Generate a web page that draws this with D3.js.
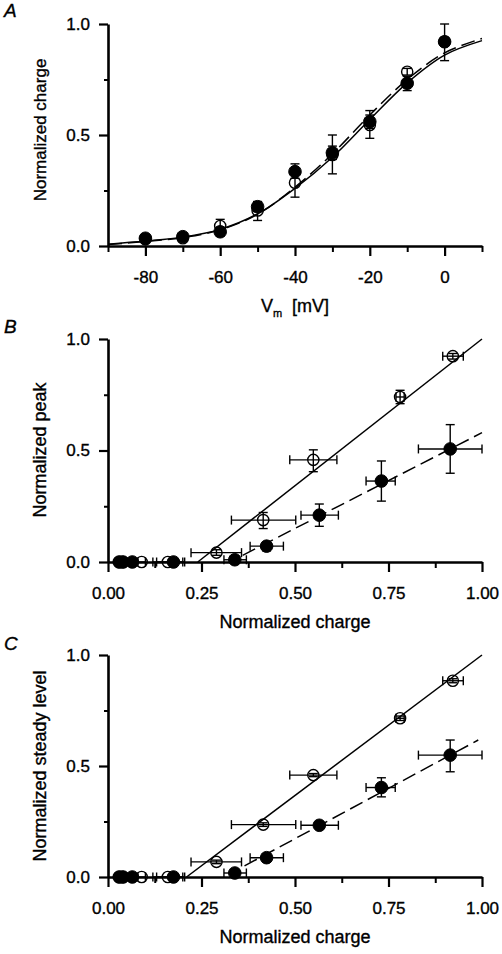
<!DOCTYPE html>
<html><head><meta charset="utf-8">
<script src="https://cdn.jsdelivr.net/npm/d3@7"></script>
<style>
body{margin:0;background:#fff}
svg text{font-family:"Liberation Sans",Arial,Helvetica,sans-serif;fill:#000;stroke:#000;stroke-width:0.35px}
</style>
</head><body>
<svg id="chart" width="502" height="954"></svg>
<script>
// ---------- Panel A data ----------
const aVolt     = [-80, -70, -60, -50, -40, -30, -20, -10, 0];
const aOpen     = [0.030, 0.035, 0.090, 0.160, 0.285, 0.410, 0.545, 0.785, 0.920];
const aOpenLo   = [0.020, 0.025, 0.060, 0.115, 0.220, 0.325, 0.485, 0.770, 0.900];
const aOpenHi   = [0.040, 0.045, 0.120, 0.200, 0.340, 0.500, 0.610, 0.800, 0.940];
const aFill     = [0.035, 0.042, 0.064, 0.177, 0.335, 0.420, 0.560, 0.733, 0.920];
const aFillLo   = [0.025, 0.032, 0.045, 0.155, 0.305, 0.390, 0.530, 0.700, 0.835];
const aFillHi   = [0.045, 0.052, 0.085, 0.200, 0.370, 0.450, 0.590, 0.765, 1.000];
const fitVolt   = [-90, -80, -70, -60, -50, -40, -30, -20, -10, 0, 10];
const fitSolid  = [0.008, 0.022, 0.040, 0.075, 0.145, 0.260, 0.400, 0.570, 0.735, 0.860, 0.925];
const fitDash   = [0.007, 0.020, 0.038, 0.073, 0.143, 0.265, 0.415, 0.590, 0.750, 0.870, 0.935];
const aXTicks   = [-90, -80, -70, -60, -50, -40, -30, -20, -10, 0, 10];
const aXLabels  = [-80, -60, -40, -20, 0];

// ---------- Normalized charge (x of panels B, C) ----------
const qOpenX    = [0.030, 0.040, 0.090, 0.160, 0.290, 0.415, 0.549, 0.781, 0.922];
const qOpenXLo  = [0.030, 0.040, 0.080, 0.120, 0.222, 0.330, 0.486, 0.770, 0.895];
const qOpenXHi  = [0.030, 0.040, 0.100, 0.200, 0.357, 0.502, 0.612, 0.792, 0.950];
const qFillX    = [0.030, 0.040, 0.065, 0.175, 0.339, 0.424, 0.565, 0.731, 0.915];
const qFillXLo  = [0.030, 0.040, 0.065, 0.130, 0.310, 0.380, 0.516, 0.690, 0.830];
const qFillXHi  = [0.030, 0.040, 0.065, 0.205, 0.370, 0.469, 0.616, 0.768, 1.000];

// ---------- Panel B: normalized peak ----------
const bOpen     = [0, 0, 0, 0, 0.042, 0.188, 0.458, 0.740, 0.923];
const bOpenLo   = [0, 0, 0, 0, 0.030, 0.150, 0.405, 0.710, 0.910];
const bOpenHi   = [0, 0, 0, 0, 0.055, 0.222, 0.503, 0.770, 0.935];
const bFill     = [0, 0, 0, 0, 0.010, 0.071, 0.210, 0.363, 0.507];
const bFillLo   = [0, 0, 0, 0, 0.005, 0.050, 0.160, 0.273, 0.398];
const bFillHi   = [0, 0, 0, 0, 0.015, 0.090, 0.260, 0.453, 0.616];
const bSolidX   = [0.24, 1.00], bSolidY = [0.00, 1.00];
const bDashX    = [0.36, 1.00], bDashY  = [0.03, 0.58];

// ---------- Panel C: normalized steady level ----------
const cOpen     = [0, 0, 0, 0, 0.068, 0.236, 0.459, 0.715, 0.884];
const cOpenLo   = [0, 0, 0, 0, 0.060, 0.228, 0.452, 0.705, 0.875];
const cOpenHi   = [0, 0, 0, 0, 0.076, 0.244, 0.466, 0.725, 0.893];
const cFill     = [0, 0, 0, 0, 0.018, 0.087, 0.233, 0.403, 0.549];
const cFillLo   = [0, 0, 0, 0, 0.012, 0.078, 0.220, 0.361, 0.474];
const cFillHi   = [0, 0, 0, 0, 0.024, 0.096, 0.246, 0.447, 0.617];
const cSolidX   = [0.21, 1.00], cSolidY = [0.00, 1.00];
const cDashX    = [0.365, 0.99], cDashY = [0.05, 0.617];

const qXTicks   = [0, 0.125, 0.25, 0.375, 0.5, 0.625, 0.75, 0.875, 1.0];
const qXLabels  = [0, 0.25, 0.5, 0.75, 1.0];
const yTicks    = [0, 0.25, 0.5, 0.75, 1.0];
const yLabels   = [0, 0.5, 1.0];

// ---------- drawing ----------
const svg = d3.select("#chart");
const X0 = 108, X1 = 482;
const FS = 17, TFS = 18;

function panel(opt) {
  const g = svg.append("g");
  const x = d3.scaleLinear().domain(opt.xDomain).range([X0, X1]);
  const y = d3.scaleLinear().domain([0, 1]).range([opt.y0, opt.y1]);

  // minor ticks
  g.append("g").attr("transform", `translate(0,${opt.y0})`)
    .call(d3.axisBottom(x).tickValues(opt.xTicks.filter(v => !opt.xLabels.includes(v))).tickSize(6).tickFormat(""))
    .call(a => a.select(".domain").remove())
    .call(a => a.selectAll("line").attr("stroke-width", 2));
  g.append("g").attr("transform", `translate(${X0},0)`)
    .call(d3.axisLeft(y).tickValues(yTicks.filter(v => !yLabels.includes(v))).tickSize(4).tickFormat(""))
    .call(a => a.select(".domain").remove())
    .call(a => a.selectAll("line").attr("stroke-width", 2));
  // major ticks + labels
  const xa = g.append("g").attr("transform", `translate(0,${opt.y0})`)
    .call(d3.axisBottom(x).tickValues(opt.xLabels).tickSize(10).tickSizeOuter(0).tickPadding(15).tickFormat(opt.xFmt));
  const ya = g.append("g").attr("transform", `translate(${X0},0)`)
    .call(d3.axisLeft(y).tickValues(yLabels).tickSize(9).tickSizeOuter(0).tickPadding(9).tickFormat(d3.format(".1f")));
  [xa, ya].forEach(a => {
    a.select(".domain").attr("stroke-width", 2.6);
    a.selectAll("line").attr("stroke-width", 2.2);
    a.selectAll("text").style("font-size", FS + "px").style("font-family", '"Liberation Sans",Arial,sans-serif');
  });

  // titles
  const xt = g.append("text").attr("x", (X0 + X1) / 2).attr("y", opt.y0 + 66)
    .attr("text-anchor", "middle").style("font-size", TFS + "px");
  if (opt.xTitleSub) {
    xt.append("tspan").text("V");
    xt.append("tspan").attr("dy", 5).style("font-size", "11px").text("m");
    xt.append("tspan").attr("dy", -5).attr("xml:space", "preserve").text("  [mV]");
  } else xt.text(opt.xTitle);
  g.append("text").attr("transform", `translate(46,${opt.yTitleC}) rotate(-90)`)
    .attr("text-anchor", "middle").style("font-size", opt.yTitleFS + "px").text(opt.yTitle);
  g.append("text").attr("x", 4).attr("y", opt.letterY).style("font-size", "19px")
    .style("font-style", "italic").text(opt.letter);

  return {g, x, y};
}

function errBars(g, x, y, xs, ys, xlo, xhi, ylo, yhi) {
  const cap = 4.5;
  xs.forEach((xv, i) => {
    const cx = x(xv), cy = y(ys[i]);
    if (ylo && ylo[i] !== yhi[i]) {
      const a = y(ylo[i]), b = y(yhi[i]);
      g.append("line").attr("x1", cx).attr("x2", cx).attr("y1", a).attr("y2", b);
      g.append("line").attr("x1", cx - cap).attr("x2", cx + cap).attr("y1", a).attr("y2", a);
      g.append("line").attr("x1", cx - cap).attr("x2", cx + cap).attr("y1", b).attr("y2", b);
    }
    if (xlo && xlo[i] !== xhi[i]) {
      const a = x(xlo[i]), b = x(xhi[i]);
      g.append("line").attr("x1", a).attr("x2", b).attr("y1", cy).attr("y2", cy);
      g.append("line").attr("x1", a).attr("x2", a).attr("y1", cy - cap).attr("y2", cy + cap);
      g.append("line").attr("x1", b).attr("x2", b).attr("y1", cy - cap).attr("y2", cy + cap);
    }
  });
  g.selectAll("line").attr("stroke", "#000").attr("stroke-width", 1.4);
}

function dots(g, x, y, xs, ys, filled) {
  g.selectAll(null).data(xs).join("circle")
    .attr("cx", d => x(d)).attr("cy", (d, i) => y(ys[i]))
    .attr("r", filled ? 6.3 : 5.6)
    .attr("fill", filled ? "#000" : "none")
    .attr("stroke", "#000").attr("stroke-width", filled ? 1 : 1.4);
}

// ---- Panel A ----
{
  const {g, x, y} = panel({
    xDomain: [-90, 10], y0: 246, y1: 24, xTicks: aXTicks, xLabels: aXLabels,
    xFmt: d => String(d), xTitleSub: true, yTitle: "Normalized charge", yTitleC: 130, yTitleFS: 17,
    letter: "A", letterY: 17
  });
  const line = d3.line().x(d => x(d[0])).y(d => y(d[1])).curve(d3.curveCatmullRom);
  g.append("path").attr("d", line(fitVolt.map((v, i) => [v, fitSolid[i]])))
    .attr("fill", "none").attr("stroke", "#000").attr("stroke-width", 1.5);
  g.append("path").attr("d", line(fitVolt.map((v, i) => [v, fitDash[i]])))
    .attr("fill", "none").attr("stroke", "#000").attr("stroke-width", 1.5).attr("stroke-dasharray", "14,6");
  errBars(g.append("g"), x, y, aVolt, aFill, null, null, aFillLo, aFillHi);
  errBars(g.append("g"), x, y, aVolt, aOpen, null, null, aOpenLo, aOpenHi);
  dots(g.append("g"), x, y, aVolt, aFill, true);
  dots(g.append("g"), x, y, aVolt, aOpen, false);
}

function qPanel(o) {
  const {g, x, y} = panel({
    xDomain: [0, 1], y0: o.y0, y1: o.y1, xTicks: qXTicks, xLabels: qXLabels,
    xFmt: d3.format(".2f"), xTitle: "Normalized charge", yTitle: o.yTitle, yTitleC: o.yTitleC, yTitleFS: TFS,
    letter: o.letter, letterY: o.letterY
  });
  const line = d3.line().x(d => x(d[0])).y(d => y(d[1]));
  g.append("path").attr("d", line(o.solidX.map((v, i) => [v, o.solidY[i]])))
    .attr("fill", "none").attr("stroke", "#000").attr("stroke-width", 1.5);
  g.append("path").attr("d", line(o.dashX.map((v, i) => [v, o.dashY[i]])))
    .attr("fill", "none").attr("stroke", "#000").attr("stroke-width", 1.5).attr("stroke-dasharray", "14,6");
  errBars(g.append("g"), x, y, qFillX, o.fill, qFillXLo, qFillXHi, o.fillLo, o.fillHi);
  errBars(g.append("g"), x, y, qOpenX, o.open, qOpenXLo, qOpenXHi, o.openLo, o.openHi);
  dots(g.append("g"), x, y, qFillX, o.fill, true);
  dots(g.append("g"), x, y, qOpenX, o.open, false);
}

qPanel({y0: 562, y1: 339, yTitle: "Normalized peak", yTitleC: 450, letter: "B", letterY: 333,
  open: bOpen, openLo: bOpenLo, openHi: bOpenHi, fill: bFill, fillLo: bFillLo, fillHi: bFillHi,
  solidX: bSolidX, solidY: bSolidY, dashX: bDashX, dashY: bDashY});
qPanel({y0: 877, y1: 655, yTitle: "Normalized steady level", yTitleC: 766, letter: "C", letterY: 650,
  open: cOpen, openLo: cOpenLo, openHi: cOpenHi, fill: cFill, fillLo: cFillLo, fillHi: cFillHi,
  solidX: cSolidX, solidY: cSolidY, dashX: cDashX, dashY: cDashY});
</script>
</body></html>
